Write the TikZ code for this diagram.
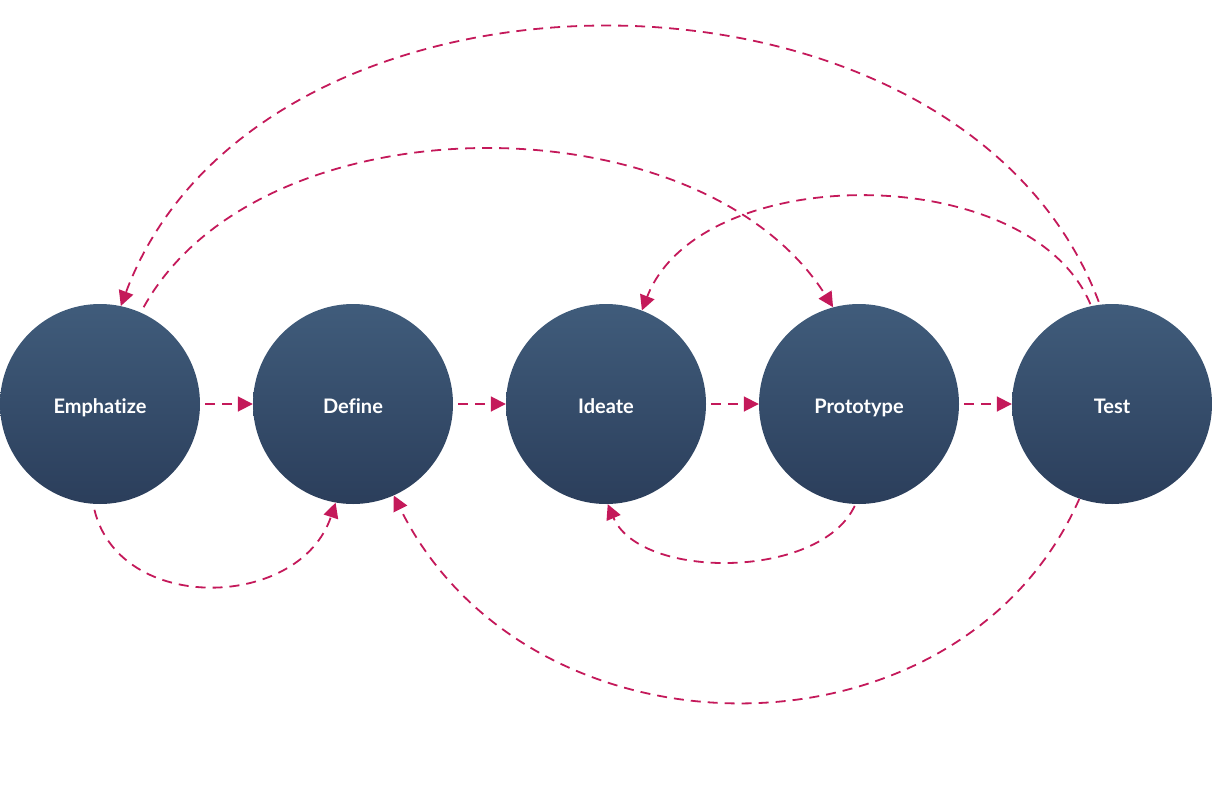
\documentclass[tikz,border=0pt]{standalone}
\usepackage{fontspec}
\setmainfont{Lato}[Ligatures=NoCommon]
\usetikzlibrary{arrows.meta}
\definecolor{ctop}{HTML}{405C7B}
\definecolor{cbot}{HTML}{2B3E5B}
\definecolor{arr}{HTML}{C4195A}
\tikzset{
  stage/.style={circle, minimum size=200pt, inner sep=0pt, top color=ctop, bottom color=cbot, draw=none,
    text=white, font=\fontsize{20}{22}\selectfont\bfseries, text height=22pt, text depth=4pt},
  flow/.style={draw=arr, line width=1.8pt, dash pattern=on 10pt off 7pt,
    -{Triangle[length=15pt,width=15pt]}, arr},
}
\begin{document}
\begin{tikzpicture}[x=1pt,y=-1pt]
\useasboundingbox (0,0) rectangle (1216,806);
\node[stage] (E) at (100,404) {Emphatize};
\node[stage] (D) at (353,404) {Define};
\node[stage] (I) at (606,404) {Ideate};
\node[stage] (P) at (859,404) {Prototype};
\node[stage] (T) at (1112,404) {Test};
% straight arrows
\draw[flow, shorten <=5pt] (E.east) -- (D.west);
\draw[flow, shorten <=5pt] (D.east) -- (I.west);
\draw[flow, shorten <=5pt] (I.east) -- (P.west);
\draw[flow, shorten <=5pt] (P.east) -- (T.west);
% curves
\draw[flow, shorten <=6pt] (E.-94) .. controls (120,615) and (300,610) .. (D.-100);
\draw[flow, shorten <=6pt] (E.66) .. controls (260,97) and (700,97) .. (P.105);
\draw[flow, shorten <=3pt] (T.97) .. controls (960,-65) and (260,-65) .. (E.78);
\draw[flow, shorten <=2pt] (T.102) .. controls (1030,160) and (700,160) .. (I.69);
\draw[flow, shorten <=2pt] (P.-92) .. controls (820,580) and (640,580) .. (I.-89);
\draw[flow] (T.-109) .. controls (960,770) and (530,770) .. (D.-66);
\end{tikzpicture}
\end{document}
